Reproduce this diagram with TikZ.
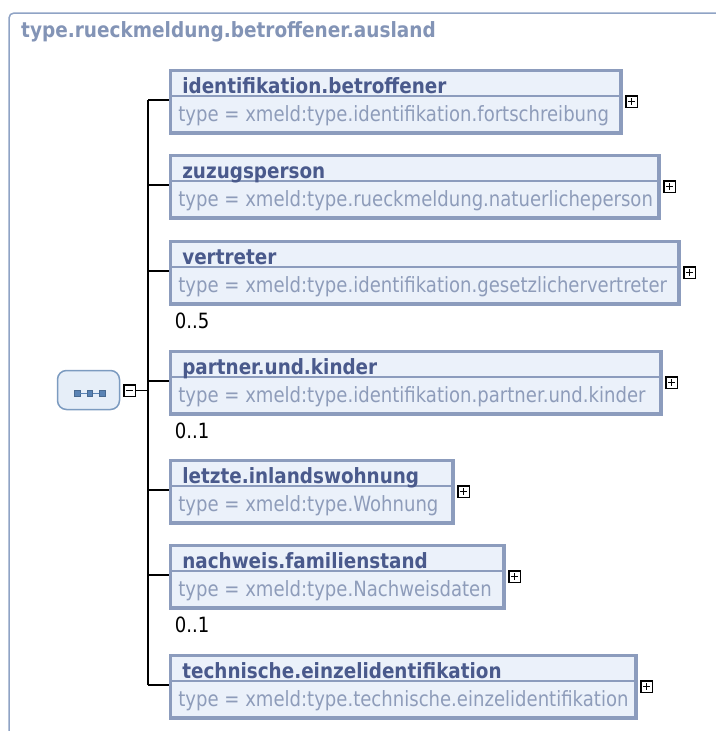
\documentclass[tikz,border=0pt]{standalone}
\usepackage{fontspec}
\setmainfont{DejaVu Sans}[FakeStretch=0.86]
\newfontfamily\namefont{DejaVu Sans}[FakeStretch=0.875]
\newfontfamily\titlefont{DejaVu Sans}[FakeStretch=0.88]
\definecolor{framec}{HTML}{8FA3C5}
\definecolor{boxc}{HTML}{8C9CBD}
\definecolor{boxfill}{HTML}{EBF1FA}
\definecolor{namec}{HTML}{4A5A8C}
\definecolor{typec}{HTML}{8E9CBA}
\definecolor{titlec}{HTML}{8394B6}
\definecolor{seqc}{HTML}{7C9BC0}
\definecolor{seqfill}{HTML}{E6EEF8}
\definecolor{seqdot}{HTML}{5A83B4}
\tikzset{
  elbox/.style={draw=boxc, fill=boxfill, line width=3.2pt, minimum height=62.8pt, inner sep=0pt, anchor=north west},
  divline/.style={draw=boxc, line width=1.3pt},
  nametxt/.style={anchor=base west, inner sep=0pt, text=namec, font=\namefont\fontsize{21}{24}\selectfont\bfseries},
  typetxt/.style={anchor=base west, inner sep=0pt, text=typec, font=\fontsize{21}{24}\selectfont},
  multtxt/.style={anchor=base west, inner sep=0pt, text=black, font=\fontsize{21}{24}\selectfont},
  titletxt/.style={anchor=base west, inner sep=0pt, text=titlec, font=\titlefont\fontsize{21}{24}\selectfont\bfseries},
  pm/.style={draw=black, fill=white, line width=1.5pt, minimum size=11.5pt, inner sep=0pt},
  pmsign/.style={draw=black, line width=1.5pt},
  conn/.style={draw=black, line width=1.3pt},
  seqbox/.style={draw=seqc, fill=seqfill, line width=1.5pt, rounded corners=9pt, minimum width=62pt, minimum height=39pt, inner sep=0pt},
  seqsq/.style={draw=seqdot!80!black, fill=seqdot, line width=0.5pt, minimum size=5.5pt, inner sep=0pt},
}
\newcommand\xelem[5]{%
  \node[elbox, minimum width={#3-170.2}] (#1) at (168.6,#2+1.6) {};
  \draw[divline] ([xshift=1.6pt,yshift=5.5pt]#1.west) -- ([xshift=-1.6pt,yshift=5.5pt]#1.east);
  \node[nametxt] (#1n) at ([xshift=13.5pt,yshift=8pt]#1.west) {#4};
  \node[typetxt] (#1t) at ([xshift=9.5pt,yshift=-20pt]#1.west) {#5};
  \node[pm] (#1p) at ([xshift=9pt]#1.east) {};
  \draw[pmsign] ([xshift=-3.2pt]#1p.center) -- ([xshift=3.2pt]#1p.center);
  \draw[pmsign] ([yshift=-3.2pt]#1p.center) -- ([yshift=3.2pt]#1p.center);
}
\newcommand\xmult[2]{%
  \node[multtxt] (#1m) at ([xshift=6pt,yshift=-23pt]#1.south west) {#2};
}
\begin{document}
\begin{tikzpicture}[x=1pt,y=-1pt]
\useasboundingbox (0,0) rectangle (715,731);
\draw[draw=framec, line width=1.5pt, rounded corners=5pt] (9,740) -- (9,13) -- (730,13);
\node[titletxt] (title) at (21,37) {type.rueckmeldung.betroffener.ausland};
\coordinate (tr) at (148,0);
% connectors first
\foreach \t in {67,152,238,348,457,542,652} {
  \coordinate (c\t) at (148,\t+33);
  \draw[conn] (c\t) -- ++(21,0);
}
\draw[conn] (c67) -- (c652);
\xelem{b1}{67}{621}{identifikation.betroffener}{type = xmeld:type.identifikation.fortschreibung}
\xelem{b2}{152}{659}{zuzugsperson}{type = xmeld:type.rueckmeldung.natuerlicheperson}
\xelem{b3}{238}{679}{vertreter}{type = xmeld:type.identifikation.gesetzlichervertreter}
\xmult{b3}{0..5}
\xelem{b4}{348}{661}{partner.und.kinder}{type = xmeld:type.identifikation.partner.und.kinder}
\xmult{b4}{0..1}
\xelem{b5}{457}{453}{letzte.inlandswohnung}{type = xmeld:type.Wohnung}
\xelem{b6}{542}{504}{nachweis.familienstand}{type = xmeld:type.Nachweisdaten}
\xmult{b6}{0..1}
\xelem{b7}{652}{636}{technische.einzelidentifikation}{type = xmeld:type.technische.einzelidentifikation}
% sequence compositor
\node[seqbox] (seq) at (88.5,390) {};
\node[seqsq] (sq1) at (77,393) {};
\node[seqsq] (sq2) at (89.5,393) {};
\node[seqsq] (sq3) at (102,393) {};
\draw[draw=seqdot, line width=0.8pt] (sq1) -- (sq2) -- (sq3);
\node[pm] (seqm) at (129.5,390.5) {};
\draw[pmsign] ([xshift=-3.2pt]seqm.center) -- ([xshift=3.2pt]seqm.center);
\draw[conn] (seqm.east) -- (tr |- seqm.east);
\end{tikzpicture}
\end{document}
